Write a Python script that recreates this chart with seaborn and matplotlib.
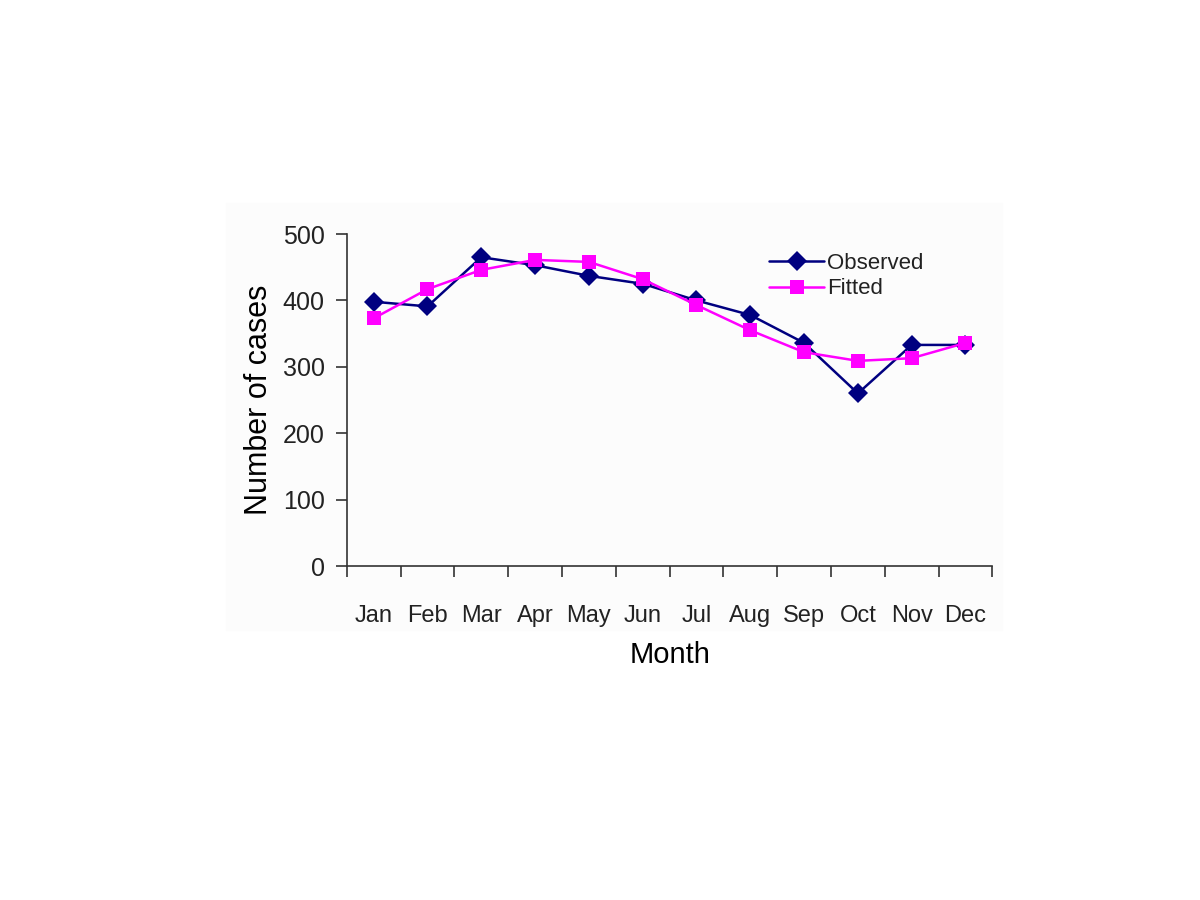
import matplotlib
matplotlib.use("Agg")
import matplotlib.pyplot as plt
import numpy as np
import pandas as pd
import seaborn as sns

months = ["Jan", "Feb", "Mar", "Apr", "May", "Jun",
          "Jul", "Aug", "Sep", "Oct", "Nov", "Dec"]
observed = [398, 391, 465, 453, 437, 425, 400, 378, 336, 260, 333, 333]
fitted = [373, 417, 446, 461, 458, 432, 393, 355, 322, 309, 313, 336]

df = pd.DataFrame({
    "pos": list(range(12)) * 2,
    "cases": observed + fitted,
    "series": ["Observed"] * 12 + ["Fitted"] * 12,
})

sns.set_style("white")
plt.rcParams["font.family"] = ["Liberation Sans", "DejaVu Sans"]

fig = plt.figure(figsize=(12, 9), dpi=100)
# light panel behind the chart, like the pasted image
fig.patches.append(plt.Rectangle((0.188, 0.3), 0.647, 0.475, transform=fig.transFigure,
                                 color="#fcfcfc", zorder=-5))
ax = fig.add_axes([0.289, 0.371, 0.538, 0.369])
ax.set_zorder(2)
ax.patch.set_alpha(0)

palette = {"Observed": "#000080", "Fitted": "#ff00ff"}
markers = {"Observed": "D", "Fitted": "s"}
sns.lineplot(data=df, x="pos", y="cases", hue="series", style="series",
             palette=palette, markers=markers, dashes=False, linewidth=1.8,
             markersize=10, markeredgewidth=0, ax=ax)

ax.set_xlim(-0.5, 11.5)
ax.set_ylim(0, 500)
ax.set_yticks(range(0, 501, 100))
ax.set_xticks(np.arange(-0.5, 12, 1))
ax.set_xticklabels([])
ax.set_xticks(range(12), minor=True)
ax.set_xticklabels(months, minor=True)
ax.tick_params(axis="x", which="major", direction="out", length=8, width=1.2,
               color="#333333", bottom=True)
ax.tick_params(axis="x", which="minor", length=0, pad=28, labelsize=17,
               labelcolor="#222222", bottom=True)
ax.tick_params(axis="y", direction="out", length=8, width=1.2, color="#333333",
               labelsize=18, labelcolor="#222222", pad=8, left=True)

for s in ["top", "right"]:
    ax.spines[s].set_visible(False)
for s in ["left", "bottom"]:
    ax.spines[s].set_color("#333333")
    ax.spines[s].set_linewidth(1.2)

ax.set_xlabel("Month", fontsize=21, labelpad=10, color="black")
ax.set_ylabel("Number of cases", fontsize=22, labelpad=6, color="black")

leg = ax.legend(loc="upper left", bbox_to_anchor=(0.64, 0.97), frameon=False,
                fontsize=16, handlelength=2.5, handletextpad=0.1,
                labelspacing=0.2, borderaxespad=0)
for t in leg.get_texts():
    t.set_color("#222222")

fig.savefig("out.png", dpi=100)
